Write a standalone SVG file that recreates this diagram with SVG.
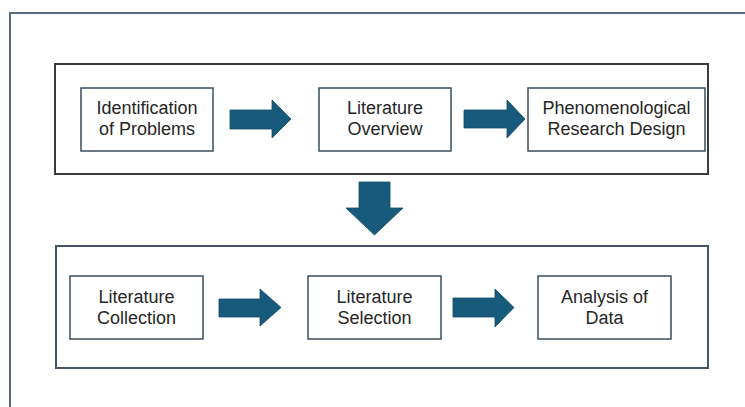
<svg xmlns="http://www.w3.org/2000/svg" width="745" height="407" viewBox="0 0 745 407">
<defs>
<style>
.frame{fill:none;stroke:#5b6b7a;stroke-width:2}
.cont{fill:none;stroke:#3a3a3a;stroke-width:2}
.cont2{fill:none;stroke:#465666;stroke-width:2}
.box{fill:#ffffff;stroke:#3d4e5e;stroke-width:1.5}
.arr{fill:#175a7c;stroke:#134a66;stroke-width:0.8}
.lbl{font-family:"Liberation Sans",Arial,sans-serif;font-size:18px;fill:#262626;text-anchor:middle}
</style>
</defs>
<rect width="745" height="407" fill="#ffffff"/>
<path class="frame" d="M10 420 V13 H760"/>
<g id="containers">
<rect id="stage1" class="cont" x="55" y="64" width="653" height="110"/>
<rect id="stage2" class="cont2" x="56" y="246" width="652" height="122"/>
</g>
<g id="n1"><rect class="box" x="81" y="88" width="132" height="63"/><text class="lbl" x="147" y="114">Identification</text><text class="lbl" x="147" y="135">of Problems</text></g>
<g id="n2"><rect class="box" x="319" y="88" width="132" height="63"/><text class="lbl" x="385" y="114">Literature</text><text class="lbl" x="385" y="135">Overview</text></g>
<g id="n3"><rect class="box" x="528" y="88" width="177" height="63"/><text class="lbl" x="616.5" y="114">Phenomenological</text><text class="lbl" x="616.5" y="135">Research Design</text></g>
<g id="n4"><rect class="box" x="70" y="276" width="133" height="63"/><text class="lbl" x="136.5" y="303">Literature</text><text class="lbl" x="136.5" y="324">Collection</text></g>
<g id="n5"><rect class="box" x="308" y="276" width="133" height="63"/><text class="lbl" x="374.5" y="303">Literature</text><text class="lbl" x="374.5" y="324">Selection</text></g>
<g id="n6"><rect class="box" x="538" y="276" width="133" height="63"/><text class="lbl" x="604.5" y="303">Analysis of</text><text class="lbl" x="604.5" y="324">Data</text></g>
<g id="connectors">
<polygon class="arr" points="230,110 272,110 272,100 291,119 272,138 272,129 230,129"/>
<polygon class="arr" points="464,110 507,110 507,100 525,119 507,138 507,128 464,128"/>
<polygon class="arr" points="219,299 260,299 260,289 281,307.5 260,326 260,317 219,317"/>
<polygon class="arr" points="453,298 495,298 495,289 514,307.5 495,327 495,317 453,317"/>
<polygon class="arr" points="359,182 390,182 390,208 403,208 374.5,235 346,208 359,208"/>
</g>
</svg>
